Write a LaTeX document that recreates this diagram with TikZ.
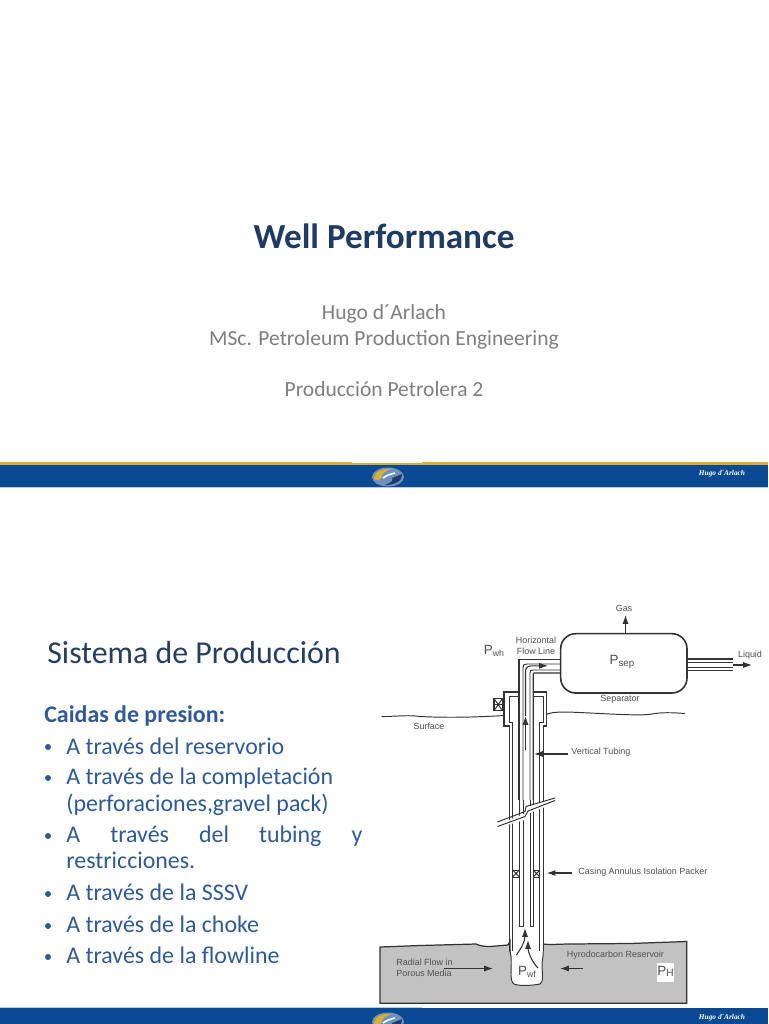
\documentclass[tikz,border=0pt]{standalone}
\usepackage{fontspec}
\setmainfont{Carlito}
\newfontfamily\dgfont{Liberation Sans}
\newfontfamily\sigfont{Liberation Serif}
\usetikzlibrary{arrows.meta}
\definecolor{titlenavy}{HTML}{1F3A63}
\definecolor{subgrey}{HTML}{7F7F7F}
\definecolor{headdark}{HTML}{243F60}
\definecolor{bulblue}{HTML}{2F5A96}
\definecolor{bandblue}{HTML}{0B4A92}
\definecolor{bandgold}{HTML}{DDAE35}
\definecolor{dgline}{HTML}{333333}
\definecolor{dgtext}{HTML}{505050}
\definecolor{resgrey}{HTML}{C2C2C2}
\tikzset{
  x=0.02cm,y=-0.02cm,
  titletxt/.style={anchor=center,inner sep=0,text=titlenavy,font=\bfseries\fontsize{20}{23}\selectfont},
  subtxt/.style={anchor=base,inner sep=0,text=subgrey,font=\fontsize{12.25}{14}\selectfont},
  headtxt/.style={anchor=base west,inner sep=0,text=headdark,font=\fontsize{18.15}{21}\selectfont},
  bultxt/.style={anchor=base west,inner sep=0,text=bulblue,font=\fontsize{13.6}{16}\selectfont},
  dgt/.style={anchor=center,inner sep=0,text=dgtext,font=\dgfont\fontsize{5.1}{6}\selectfont},
  pt/.style={anchor=center,inner sep=0,text=dgtext,font=\dgfont\fontsize{7.6}{9}\selectfont},
  sig/.style={anchor=center,inner sep=0,text=white,font=\sigfont\itshape\bfseries\fontsize{4.2}{5}\selectfont},
  wl/.style={draw=dgline,line width=0.55pt},
  wb/.style={draw=dgline,line width=0.7pt},
  flow/.style={draw=dgline,line width=0.6pt,-{Latex[length=5pt,width=3.4pt]}},
}
\newcommand{\bandlogo}[2]{%
  \begin{scope}[shift={(#1,#2)}]
    \fill[white,opacity=.4] (0,0) ellipse (16 and 9.5);
    \fill[bandgold] (-14,2) .. controls (-14,-5) and (-6,-9) .. (4,-8)
       .. controls (-3,-6) and (-7,-3) .. (-6,0) .. controls (-8,3) and (-11,4) .. (-14,2) -- cycle;
    \fill[titlenavy] (14,-3) .. controls (15,3) and (8,8) .. (-3,8)
       .. controls (3,6) and (6,3) .. (4,1) .. controls (8,0) and (11,-2) .. (14,-3) -- cycle;
    \draw[white,line width=0.9pt] (-5,1) .. controls (-1,-2) and (3,-3) .. (7,-4);
  \end{scope}}
\begin{document}
\begin{tikzpicture}
\useasboundingbox (0,0) rectangle (768,1024);
\begin{scope}
\clip (0,0) rectangle (768,1024);
\fill[white] (0,0) rectangle (768,1024);

% top slide
\node[titletxt] (title) at (384,236.5) {Well Performance};
\node[subtxt] (author) at (384,319) {Hugo d´Arlach};
\node[subtxt] (degree) at (384,345) {MSc. Petroleum Production Engineering};
\node[subtxt] (course) at (384,396.5) {Producción Petrolera 2};

% top band
\fill[bandgold] (0,462) rectangle (768,464.5);
\fill[bandblue] (0,464.5) rectangle (768,488);
\fill[white] (352,462) rectangle (422,462.8);
\fill[white!70!bandblue] (0,487.4) rectangle (768,488.4);
\bandlogo{388}{477}
\node[sig] (sigtop) at (722,474) {Hugo d´Arlach};

% bottom band
\fill[bandblue] (0,1007.5) rectangle (768,1024);
\fill[white!70!bandblue] (0,1007) rectangle (422,1007.8);
\bandlogo{388}{1022}
\node[sig] (sigbot) at (722,1018) {Hugo d´Arlach};

% left column
\node[headtxt] (head) at (47,663) {Sistema de Producción};
\node[bultxt,font=\bfseries\fontsize{13.6}{16}\selectfont] (caidas) at (44,722.5) {Caidas de presion:};
\foreach \yy in {747,778,836,894,926,957}{
  \fill[bulblue] (48,\yy) circle (3);
}
\node[bultxt] (b1) at (66,754) {A través del reservorio};
\node[bultxt] (b2) at (66,784.5) {A través de la completación};
\node[bultxt] (b2b) at (66,811.5) {(perforaciones,gravel pack)};
\node[bultxt,text width=296*0.02cm] (b3) at (66,842.5) {A\hfill través\hfill del\hfill tubing\hfill y};
\node[bultxt] (b3b) at (66,868.5) {restricciones.};
\node[bultxt] (b4) at (66,900.5) {A través de la SSSV};
\node[bultxt] (b5) at (66,932.5) {A través de la choke};
\node[bultxt] (b6) at (66,963.5) {A través de la flowline};

% reservoir
\filldraw[fill=resgrey,draw=dgline,line width=0.7pt]
  (380,947) -- (420,945.5) -- (476,944) .. controls (480,946) and (485,946.5) .. (490,946.5)
  -- (508,945) -- (510,941) -- (510,951) -- (543,951) -- (543,944)
  .. controls (550,945) and (560,944) .. (570,944) -- (630,943.5) -- (686.7,941.5)
  -- (686.7,1003.3) -- (380,1003.3) -- cycle;
% well cavity
\filldraw[fill=white,draw=dgline,line width=0.55pt]
  (510,951) .. controls (512,958) and (511,966) .. (511,975)
  .. controls (511,982) and (513,985) .. (518,985)
  .. controls (525,986) and (535,985) .. (540,984)
  .. controls (544,982) and (542,972) .. (542,965)
  .. controls (542,958) and (544,955) .. (543,951) -- cycle;
\fill[white] (510.6,935) rectangle (542.6,952);

% surface
\draw[wl] (381.7,716.7) .. controls (400,716) and (410,715) .. (420,716.5)
  .. controls (450,718) and (480,717) .. (504,715.5);
\draw[wl] (546.5,714.5) .. controls (552,711) and (570,712) .. (590,713)
  .. controls (620,714.5) and (645,716) .. (655,713.5)
  .. controls (665,712) and (678,713) .. (685,713.5);

% well: casing, both sides with wellhead
\draw[wb] (509.5,800) -- (509.5,726) -- (504,726) -- (504,692) -- (519,692);
\draw[wl] (512.7,800) -- (512.7,722) -- (509,722) -- (509,696) -- (519,696);
\draw[wb] (533.3,692) -- (546.5,692) -- (546.5,726) -- (543.3,726) -- (543.3,800);
\draw[wl] (533.3,696) -- (543.3,696) -- (543.3,722) -- (539.5,722) -- (539.5,800);
% tubing and flow line
\draw[wb] (519,800) -- (519,659.3) -- (560.7,659.3);
\draw[wl] (523,800) -- (523,668) .. controls (523,665) and (524,664) .. (527,664) -- (560.7,664);
\draw[wl] (530,800) -- (530,673) .. controls (530,670.5) and (531,670) .. (533,670) -- (560.7,670);
\draw[wb] (533.3,800) -- (533.3,674) .. controls (533.3,673.5) and (533.5,673) .. (534,673) -- (560.7,673);
% below break
\draw[wb] (509.5,800) -- (509.5,951);
\draw[wl] (512.7,800) -- (512.7,951);
\draw[wl] (539.5,800) -- (539.5,951);
\draw[wb] (543.3,800) -- (543.3,951);
\draw[wl] (519,800) -- (519,926.7) -- (523,926.7) -- (523,800);
\draw[wl] (530,800) -- (530,926.7) -- (533.3,926.7) -- (533.3,800);
% break
\fill[white] (497,825) -- (526,813) -- (528,807) -- (555,797) -- (555,803) -- (530,813) -- (528,819) -- (497,828) -- cycle;
\draw[wl] (497.5,822) -- (525,811.5) -- (526,806.5) -- (555,798);
\draw[wl] (497.5,826.5) -- (525,816.5) -- (528,811) -- (555,800.5);

% packers
\foreach \px in {512.7,533.3}{
  \draw[wl,fill=white] (\px,870) rectangle ++(6.5,7);
  \draw[wl] (\px,870) -- ++(6.5,7) (\px,877) -- ++(6.5,-7);
}
% wellhead valve
\draw[wb,fill=white] (494,698.5) rectangle (502.5,710.7);
\draw[wl] (494,698.5) -- (502.5,710.7) (494,710.7) -- (502.5,698.5);
\draw[wl] (494,704.5) -- (502.5,704.5);
\draw[wb] (502.5,697) -- (504,697);

% separator
\node[draw=dgline,line width=0.9pt,rounded corners=15*0.02cm,minimum width=126.3*0.02cm,minimum height=59.3*0.02cm,inner sep=0,fill=white] (sep) at (623.85,663.35) {};
\node[pt] (psep) at (622,662) {P\raisebox{-1pt}{\fontsize{5.6}{6}\selectfont sep}};
\node[dgt] (seplab) at (620,699.5) {Separator};

% liquid
\draw[wb] (687,659) -- (733,659);
\draw[wl] (687,662.5) -- (733,662.5);
\draw[wl] (687,667) -- (733,667);
\draw[wb] (687,670.5) -- (733,670.5);
\coordinate (liqstart) at (733,665);
\coordinate (liqend) at (752,665);
\draw[flow] (liqstart) -- (liqend);
\node[dgt] (liquid) at (750,655) {Liquid};

% gas
\coordinate (gastop) at (625.5,615);
\draw[flow] (sep.north -| gastop) -- (gastop);
\node[dgt] (gas) at (624,608) {Gas};

% labels
\node[dgt,align=center] (hfl) at (536,646) {Horizontal\\[0.2pt]Flow Line};
\node[pt] (pwh) at (494,651) {P\raisebox{-1pt}{\fontsize{5}{6}\selectfont wh}};
\node[dgt] (surface) at (429,726) {Surface};

% flow arrows in tubing
\coordinate (fa) at (525.5,750);
\coordinate (fb) at (525.5,716);
\coordinate (fc) at (548,665.8);
\draw[flow] (fa) -- (fb);
\draw[flow] (fb) -- (525.5,672) .. controls (525.5,668) and (527,666.5) .. (531,665.8) -- (fc);

% vertical tubing callout
\node[dgt,anchor=west] (vt) at (571,752) {Vertical Tubing};
\coordinate (vta) at (568,754);
\coordinate (vtb) at (534,754);
\draw[flow] (vta) -- (vtb);

% packer callout
\node[dgt,anchor=west] (pk) at (578,872) {Casing Annulus Isolation Packer};
\coordinate (pka) at (571.7,873);
\coordinate (pkb) at (546.7,873);
\draw[flow] (pka) -- (pkb);

% reservoir labels and arrows
\node[dgt,anchor=west] (rad1) at (396,962) {Radial Flow in};
\node[dgt,anchor=west] (rad2) at (396,973) {Porous Media};
\coordinate (ra) at (444,968.5);
\coordinate (rb) at (493,968.5);
\draw[flow] (ra) -- (rb);
\coordinate (rc) at (583,968.5);
\coordinate (rd) at (560,968.5);
\draw[flow] (rc) -- (rd);
\node[dgt,anchor=west] (hc) at (566.5,955) {Hyrodocarbon Reservoir};
\node[fill=white,inner sep=0,minimum width=17*0.02cm,minimum height=19*0.02cm] (phbox) at (665.5,972.5) {};
\node[pt] (ph) at (665.5,971.5) {P\raisebox{-1pt}{\fontsize{6}{6}\selectfont H}};
\node[pt] (pwf) at (527,972) {P\raisebox{-1pt}{\fontsize{5}{6}\selectfont wf}};
\coordinate (c1a) at (516.5,955);
\coordinate (c1b) at (525,928);
\draw[flow] (c1a) .. controls (521,948) and (525,942) .. (c1b);
\coordinate (c2a) at (538,968);
\coordinate (c2b) at (528,940);
\draw[flow] (c2a) .. controls (532,962) and (528,952) .. (c2b);
\end{scope}
\end{tikzpicture}
\end{document}
